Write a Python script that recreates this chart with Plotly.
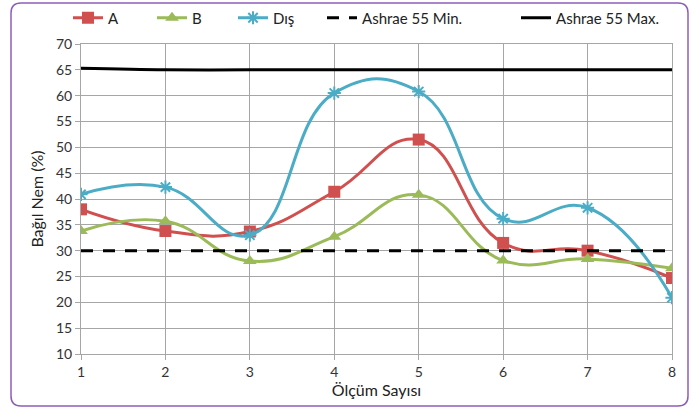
import plotly.graph_objects as go

olcum = [1, 2, 3, 4, 5, 6, 7, 8]
a_vals = [38.0, 33.8, 33.7, 41.4, 51.5, 31.5, 30.0, 24.7]
b_vals = [33.8, 35.7, 28.0, 32.7, 40.8, 28.1, 28.4, 26.6]
dis_vals = [40.9, 42.3, 33.0, 60.5, 60.8, 36.2, 38.3, 20.9]
min_vals = [30, 30, 30, 30, 30, 30, 30, 30]
max_vals = [65.3, 65, 65, 65, 65, 65, 65, 65]

FONT = "Lato"
W, H = 693, 409
L, R, T, B = 81, 21, 44, 55
PW, PH = W - L - R, H - T - B
SM = 1.3


def px_x(px):
    return (px - L) / PW


def px_y(py):
    return (H - B - py) / PH


fig = go.Figure()
fig.add_trace(go.Scatter(
    x=olcum, y=a_vals, name="A", mode="lines+markers",
    line=dict(color="#D0504F", width=3, shape="spline", smoothing=SM),
    marker=dict(symbol="square", size=12, color="#D0504F"),
    legend="legend"))
fig.add_trace(go.Scatter(
    x=olcum, y=b_vals, name="B", mode="lines+markers",
    line=dict(color="#9BBB59", width=3, shape="spline", smoothing=SM),
    marker=dict(symbol="triangle-up", size=12, color="#9BBB59"),
    legend="legend2"))
fig.add_trace(go.Scatter(
    x=olcum, y=dis_vals, name="Dış", mode="lines+markers",
    line=dict(color="#4BACC6", width=3, shape="spline", smoothing=SM),
    marker=dict(symbol="asterisk-open", size=11, color="#4BACC6",
                line=dict(color="#4BACC6", width=2)),
    legend="legend3"))
fig.add_trace(go.Scatter(
    x=olcum, y=min_vals, name="Ashrae 55 Min.", mode="lines",
    line=dict(color="black", width=3, dash="12px,10px"),
    legend="legend4"))
fig.add_trace(go.Scatter(
    x=olcum, y=max_vals, name="Ashrae 55 Max.", mode="lines",
    line=dict(color="black", width=3, shape="spline", smoothing=1.0),
    legend="legend5"))

leg_common = dict(orientation="h", yanchor="middle", xanchor="left",
                  xref="container", yref="container",
                  y=1 - 18 / H, font=dict(family=FONT, size=15, color="#222"),
                  bgcolor="rgba(0,0,0,0)", borderwidth=0)
legend_lefts = [68, 152, 233, 322, 516]

# rounded purple frame
x0, x1 = px_x(11), px_x(688)
y0, y1 = px_y(406), px_y(3)
rx, ry = 10 / PW, 10 / PH
path = (f"M {x0+rx},{y1} L {x1-rx},{y1} Q {x1},{y1} {x1},{y1-ry} "
        f"L {x1},{y0+ry} Q {x1},{y0} {x1-rx},{y0} L {x0+rx},{y0} "
        f"Q {x0},{y0} {x0},{y0+ry} L {x0},{y1-ry} Q {x0},{y1} {x0+rx},{y1} Z")

axis_common = dict(showgrid=True, gridcolor="#A6A6A6", gridwidth=1,
                   showline=True, linecolor="#A6A6A6", linewidth=1, mirror=True,
                   ticks="outside", tickcolor="#A6A6A6", ticklen=5,
                   tickfont=dict(family=FONT, size=14, color="#333"),
                   zeroline=False)

fig.update_layout(
    width=W, height=H,
    margin=dict(l=L, r=R, t=T, b=B, autoexpand=False),
    paper_bgcolor="white", plot_bgcolor="white",
    hovermode=False, showlegend=True,
    xaxis=dict(range=[1, 8], tickvals=olcum, ticktext=[str(v) for v in olcum],
               title=dict(text="Ölçüm Sayısı", font=dict(family=FONT, size=16, color="#222"), standoff=6),
               **axis_common),
    yaxis=dict(range=[10, 70], dtick=5,
               title=dict(text="Bağıl Nem (%)", font=dict(family=FONT, size=16, color="#222"), standoff=8),
               **axis_common),
    shapes=[dict(type="path", path=path, xref="paper", yref="paper",
                 line=dict(color="#8E5DB8", width=1.5), layer="above")],
)
names = ["legend", "legend2", "legend3", "legend4", "legend5"]
for n, lx in zip(names, legend_lefts):
    fig.update_layout({n: dict(x=lx / W, **leg_common)})

fig.write_html("out.html")
